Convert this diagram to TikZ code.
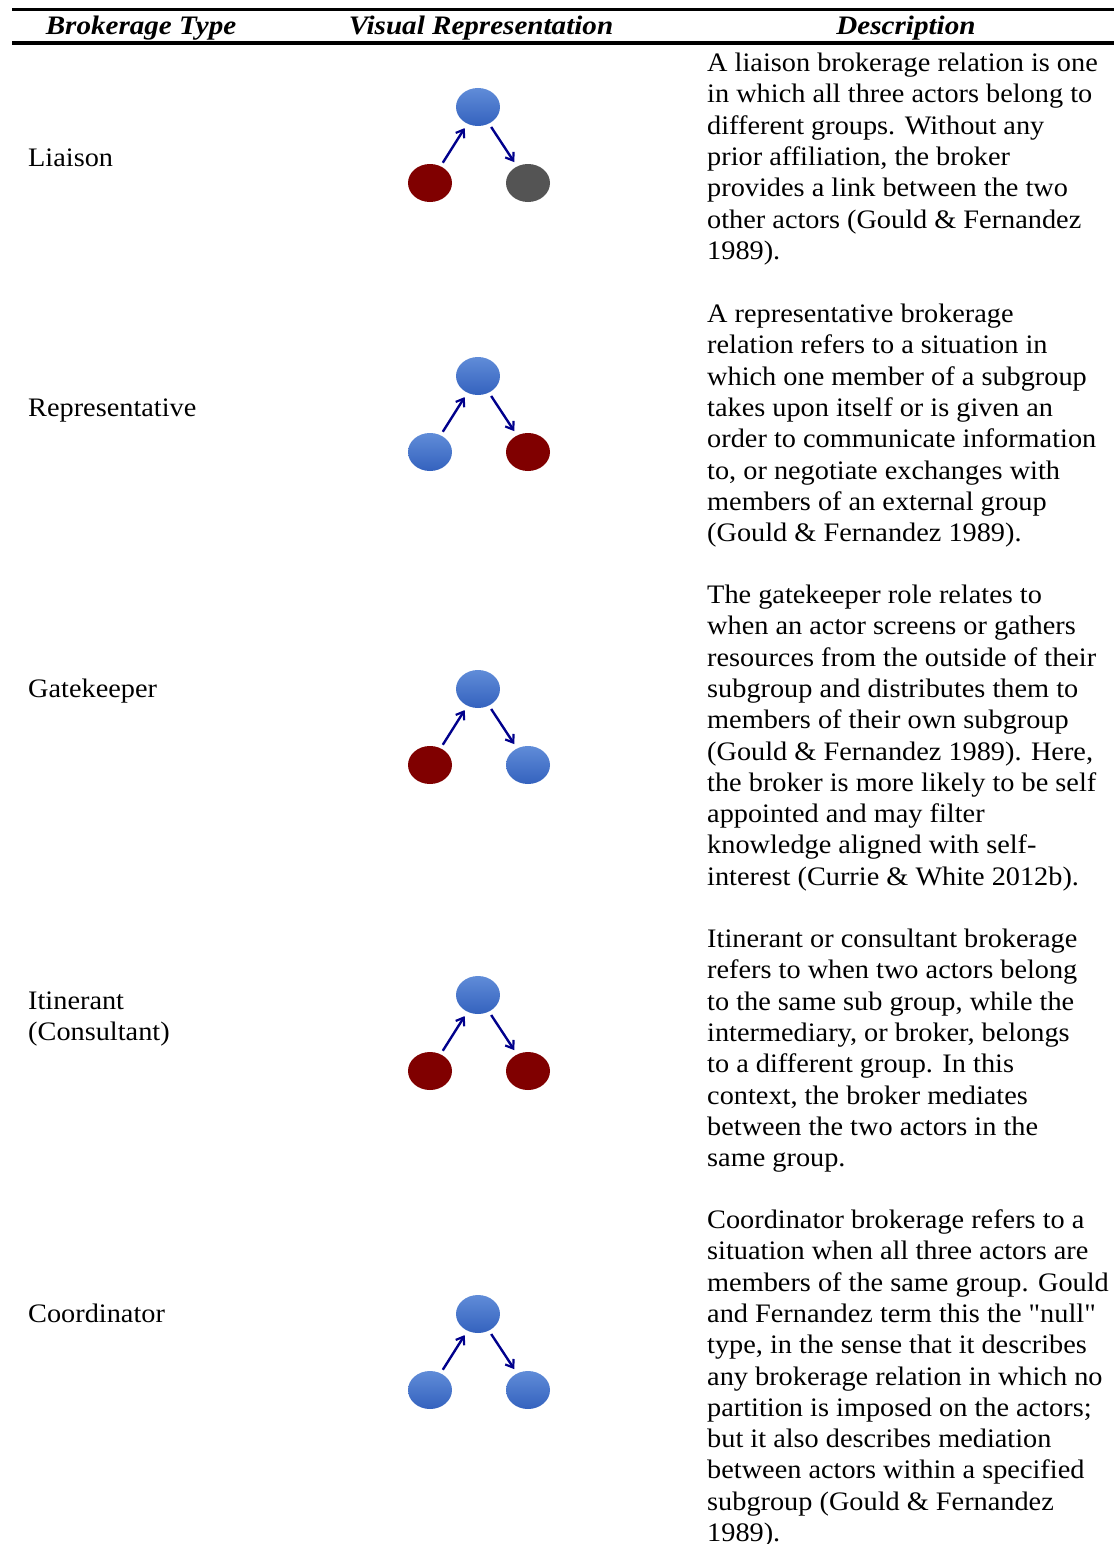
\documentclass[tikz,border=0pt]{standalone}
\usepackage{fontspec}
\setmainfont{Liberation Serif}[FakeStretch=1.06]
\newfontfamily\headfont{Liberation Serif}[FakeStretch=1.09]
\newfontfamily\straightq{Liberation Serif}[FakeStretch=1.06, Ligatures=TeXOff]
\usetikzlibrary{shapes.geometric,arrows.meta}
\definecolor{brokerblueT}{RGB}{96,140,216}
\definecolor{brokerblueB}{RGB}{52,98,190}
\definecolor{outred}{RGB}{128,0,0}
\definecolor{outgray}{RGB}{84,84,84}
\definecolor{tienavy}{RGB}{0,0,140}
\tikzset{
  % multi-line nodes sit on the baseline of their last line
  body/.style={font=\fontsize{26.7}{31.3}\selectfont, inner sep=0pt, anchor=base west, align=left},
  headtxt/.style={font=\headfont\fontsize{26.7}{31.3}\selectfont\bfseries\itshape, inner sep=0pt, anchor=base},
  actor/.style={ellipse, minimum width=44pt, minimum height=38pt, inner sep=0pt},
  bluenode/.style={actor, top color=brokerblueT, bottom color=brokerblueB},
  rednode/.style={actor, fill=outred},
  graynode/.style={actor, fill=outgray},
  tie/.style={draw=tienavy, line width=2.4pt, -{Straight Barb[length=7pt,width=10pt,line width=2.2pt]}, shorten <=4pt, shorten >=5pt},
  rulestyle/.style={line width=3.2pt}
}
\newcommand{\triad}[4]{%
  % #1 prefix, #2 y of broker, #3 style left, #4 style right
  \node[bluenode] (#1top) at (478,#2) {};
  \node[#3] (#1left) at (430,#2+76) {};
  \node[#4] (#1right) at (528,#2+76) {};
  \draw[tie] (#1left) -- (#1top);
  \draw[tie] (#1top) -- (#1right);
}
\newcommand{\dq}{{\straightq"}}
\begin{document}
\begin{tikzpicture}[x=1pt,y=-1pt]
\useasboundingbox (0,0) rectangle (1114,1544);
% rules of the table
\coordinate (r1a) at (12,9.5);
\coordinate (r1b) at (1114,9.5);
\coordinate (r2a) at (12,43);
\coordinate (r2b) at (1114,43);
\draw[rulestyle] (r1a) -- (r1b);
\draw[rulestyle] (r2a) -- (r2b);
% header
\node[headtxt] (h1) at (141,35) {Brokerage Type};
\node[headtxt] (h2) at (481,35) {Visual Representation};
\node[headtxt] (h3) at (906,35) {Description};
% row labels
\node[body] (l1) at (28,166) {Liaison};
\node[body] (l2) at (28,416.5) {Representative};
\node[body] (l3) at (28,697.5) {Gatekeeper};
\node[body] (l4) at (28,1040.8) {Itinerant\\(Consultant)};
\node[body] (l5) at (28,1322.5) {Coordinator};
% triads
\triad{a}{107}{rednode}{graynode}
\triad{b}{376}{bluenode}{rednode}
\triad{c}{689}{rednode}{bluenode}
\triad{d}{995}{rednode}{rednode}
\triad{e}{1314}{bluenode}{bluenode}
% descriptions
\node[body] (d1) at (707,259.3) {A liaison brokerage relation is one\\in which all three actors belong to\\different groups. Without any\\prior affiliation, the broker\\provides a link between the two\\other actors (Gould \& Fernandez\\1989).};
\node[body] (d2) at (707,541.6) {A representative brokerage\\relation refers to a situation in\\which one member of a subgroup\\takes upon itself or is given an\\order to communicate information\\to, or negotiate exchanges with\\members of an external group\\(Gould \& Fernandez 1989).};
\node[body] (d3) at (707,885.2) {The gatekeeper role relates to\\when an actor screens or gathers\\resources from the outside of their\\subgroup and distributes them to\\members of their own subgroup\\(Gould \& Fernandez 1989). Here,\\the broker is more likely to be self\\appointed and may filter\\knowledge aligned with self-\\interest (Currie \& White 2012b).};
\node[body] (d4) at (707,1166.6) {Itinerant or consultant brokerage\\refers to when two actors belong\\to the same sub group, while the\\intermediary, or broker, belongs\\to a different group. In this\\context, the broker mediates\\between the two actors in the\\same group.};
\node[body] (d5) at (707,1541.5) {Coordinator brokerage refers to a\\situation when all three actors are\\members of the same group. Gould\\and Fernandez term this the \dq null\dq\\type, in the sense that it describes\\any brokerage relation in which no\\partition is imposed on the actors;\\but it also describes mediation\\between actors within a specified\\subgroup (Gould \& Fernandez\\1989).};
\end{tikzpicture}
\end{document}
